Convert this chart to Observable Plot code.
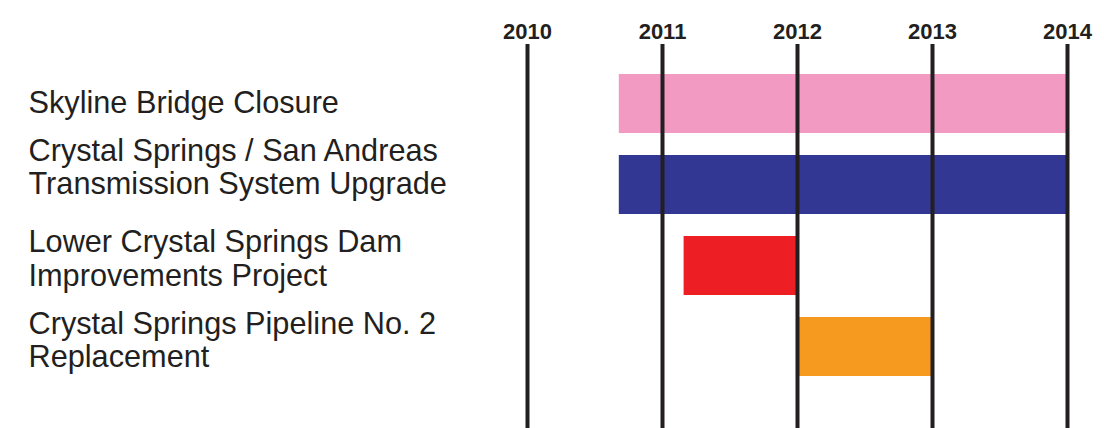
<!DOCTYPE html>
<html>
<head>
<meta charset="utf-8">
<script src="https://cdn.jsdelivr.net/npm/d3@7"></script>
<script src="https://cdn.jsdelivr.net/npm/@observablehq/plot@0.6"></script>
<style>
  html, body { margin: 0; padding: 0; background: #ffffff; }
  #chart svg { display: block; }
</style>
</head>
<body>
<div id="chart"></div>
<script>
// ---- data ----
const projects = [
  "Skyline Bridge Closure",
  "Crystal Springs / San Andreas\nTransmission System Upgrade",
  "Lower Crystal Springs Dam\nImprovements Project",
  "Crystal Springs Pipeline No. 2\nReplacement"
];
const starts = [2010.68, 2010.68, 2011.16, 2012.0];
const ends   = [2014.0, 2014.0, 2012.0, 2013.0];
const colors = ["#F39AC3", "#333794", "#ED1F24", "#F6991F"];
const years  = [2010, 2011, 2012, 2013, 2014];

const rows = projects.map((name, i) => ({name, start: starts[i], end: ends[i], color: colors[i]}));

const font = "'Liberation Sans', Arial, Helvetica, sans-serif";
const ink = "#231F20";

const labelMark = (i, dy) => Plot.text([rows[i]], {
  y: "name", text: "name", frameAnchor: "left", textAnchor: "start",
  dx: -499, dy, fontSize: 30.7, lineHeight: 1.09, fill: ink, fontFamily: font
});

const chart = Plot.plot({
  width: 1104,
  height: 428,
  marginLeft: 527,
  marginRight: 37,
  marginTop: 44,
  marginBottom: 0,
  style: {fontFamily: font, background: "#ffffff", color: ink},
  x: {domain: [2010, 2014], axis: null},
  y: {domain: projects, range: [50.6, 398.3], padding: 0.275, axis: null},
  marks: [
    Plot.barX(rows, {x1: "start", x2: "end", y: "name", fill: "color"}),
    Plot.ruleX(years, {stroke: ink, strokeWidth: 4}),
    Plot.axisX(years, {
      anchor: "top", tickSize: 0, tickPadding: 6, tickFormat: d3.format("d"),
      fontSize: 22, fontWeight: "bold", fill: ink, fontFamily: font
    }),
    labelMark(0, -2),
    labelMark(1, -18),
    labelMark(2, -7.5),
    labelMark(3, -7)
  ]
});
document.getElementById("chart").appendChild(chart);
</script>
</body>
</html>
